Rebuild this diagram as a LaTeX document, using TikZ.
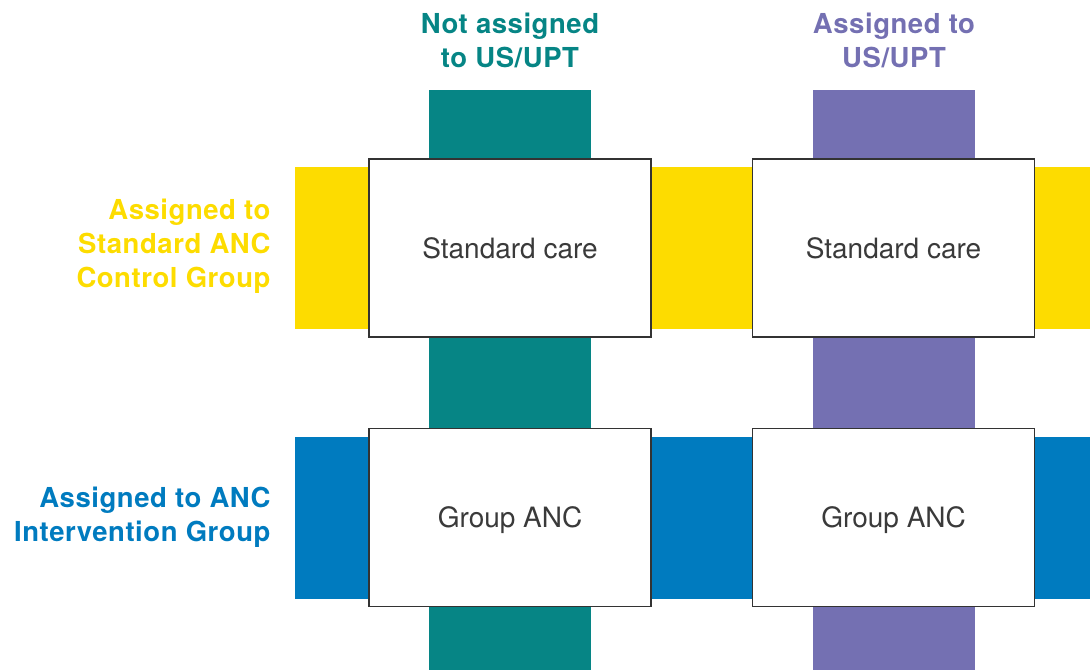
\documentclass[tikz,border=0pt]{standalone}
\usepackage{fontspec}
\setmainfont{TeX Gyre Heros}
\newfontfamily\headfont[LetterSpace=2]{TeX Gyre Heros}
\usetikzlibrary{positioning}

\definecolor{usteal}{HTML}{068585}
\definecolor{uspurple}{HTML}{7470B2}
\definecolor{ancyellow}{HTML}{FDDC00}
\definecolor{ancblue}{HTML}{007BBF}
\definecolor{celltext}{HTML}{3A3A3A}

\tikzset{
    colbar/.style={inner sep=0pt, minimum width=162pt, minimum height=580pt},
    rowbar/.style={inner sep=0pt, minimum width=795pt, minimum height=162pt},
    cell/.style={draw=black!80, line width=1.2pt, fill=white, inner sep=0pt,
        minimum width=282pt, minimum height=178pt, text=celltext,
        text height=20pt, text depth=0pt,
        font=\fontsize{28}{32}\selectfont},
    head/.style={font=\headfont\bfseries\fontsize{27.5}{34}\selectfont, align=center},
    side/.style={font=\headfont\bfseries\fontsize{27.5}{34}\selectfont, align=right, anchor=east}
}

\begin{document}
\begin{tikzpicture}[x=1pt,y=-1pt]
        \useasboundingbox (0,0) rectangle (1090,670);

        % Vertical bars
        \node[colbar, fill=usteal] (colNot) at (510,380) {};
        \node[colbar, fill=uspurple] (colUS) at (894,380) {};

        % Horizontal bars
        \node[rowbar, fill=ancyellow] (rowStd) at (692.5,248) {};
        \node[rowbar, fill=ancblue] (rowInt) at (692.5,518) {};

        % Cells
        \node[cell] (stdNot) at (510,248) {Standard care};
        \node[cell] (stdUS) at (893.5,248) {Standard care};
        \node[cell] (intNot) at (510,517.5) {Group ANC};
        \node[cell] (intUS) at (893.5,517.5) {Group ANC};

        % Column headings
        \node[head, text=usteal] (headNot) at (510,40) {Not assigned\\to US/UPT};
        \node[head, text=uspurple] (headUS) at (894,40) {Assigned to\\US/UPT};

        % Row headings
        \node[side, text=ancyellow] (sideStd) at (274,246) {Assigned to\\Standard ANC\\Control Group};
        \node[side, text=ancblue] (sideInt) at (274,517) {Assigned to ANC\\Intervention Group};

    \end{tikzpicture}
\end{document}
